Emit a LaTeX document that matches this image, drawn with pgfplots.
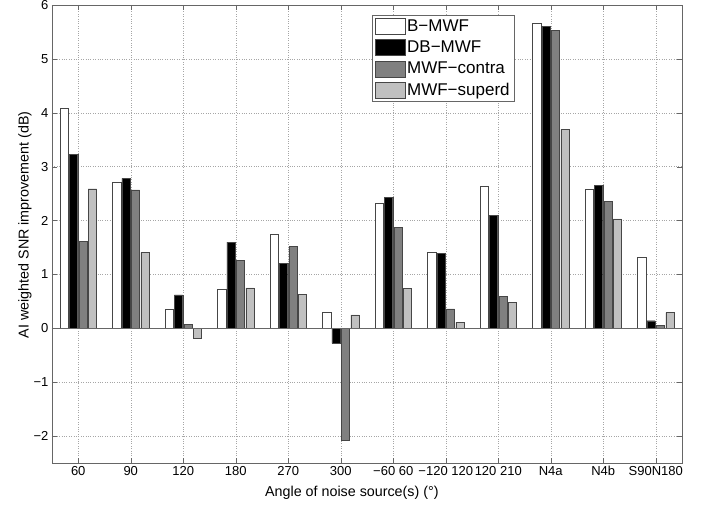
\documentclass[border=0pt]{standalone}
\usepackage{fontspec}
\setmainfont{Liberation Sans}
\usepackage{pgfplots}
\usepackage{pgfplotstable}
\pgfplotsset{compat=1.18}
\definecolor{cgray}{RGB}{128,128,128}
\definecolor{clight}{RGB}{192,192,192}
\definecolor{cedge}{RGB}{70,70,70}
\pgfplotstableread{
x a b c d
1 4.09 3.23 1.61 2.59
2 2.72 2.78 2.57 1.41
3 0.35 0.62 0.07 -0.19
4 0.72 1.60 1.26 0.75
5 1.75 1.20 1.52 0.63
6 0.29 -0.28 -2.07 0.25
7 2.32 2.43 1.87 0.74
8 1.42 1.39 0.36 0.11
9 2.63 2.10 0.59 0.48
10 5.66 5.61 5.53 3.69
11 2.58 2.65 2.36 2.03
12 1.32 0.14 0.06 0.29
}\data
\begin{document}
\begin{tikzpicture}
\begin{axis}[
  scale only axis, width=630pt, height=458pt,
  xmin=0.5, xmax=12.5, ymin=-2.5, ymax=6,
  xtick={1,...,12},
  xticklabels={60,90,120,180,270,300,{−60 60},{−120 120},{120 210},N4a,N4b,S90N180},
  ytick={-2,...,6},
  yticklabels={−2,−1,0,1,2,3,4,5,6},
  tick label style={font=\fontsize{13}{15}\selectfont},
  xtick pos=both, ytick pos=both, tick align=inside,
  major tick length=5pt,
  grid=major, major grid style={dotted, gray!70},
  axis line style={black!60}, tick style={black!60},
  every axis y label/.style={at={(axis description cs:-0.043,0.52)}, rotate=90, anchor=center, font=\fontsize{14.3}{16}\selectfont},
  every axis x label/.style={at={(axis description cs:0.476,-0.066)}, anchor=center, font=\fontsize{14.3}{16}\selectfont},
  ylabel={AI weighted SNR improvement (dB)},
  xlabel={Angle of noise source(s) (°)},
  bar width=0.16,
  legend image code/.code={\draw[#1, draw=cedge] (0pt,-8pt) rectangle (30pt,8pt);},
  legend style={at={(0.508,0.978)}, anchor=north west, draw=black!60, font=\fontsize{17}{19}\selectfont, legend cell align=left, row sep=4pt, inner sep=2.5pt},
]
\addplot[ybar, bar shift=-0.27, fill=white, draw=cedge] table[x=x,y=a] {\data};
\addplot[ybar, bar shift=-0.09, fill=black, draw=cedge] table[x=x,y=b] {\data};
\addplot[ybar, bar shift=0.09, fill=cgray, draw=cedge] table[x=x,y=c] {\data};
\addplot[ybar, bar shift=0.27, fill=clight, draw=cedge] table[x=x,y=d] {\data};
\addplot[black!60, forget plot] coordinates {(0.5,0) (12.5,0)};
\legend{B−MWF,DB−MWF,MWF−contra,MWF−superd}
\end{axis}
\pgfresetboundingbox
\path ([xshift=-52pt,yshift=-44pt]current axis.south west) rectangle ([xshift=24pt,yshift=5pt]current axis.north east);
\end{tikzpicture}
\end{document}
